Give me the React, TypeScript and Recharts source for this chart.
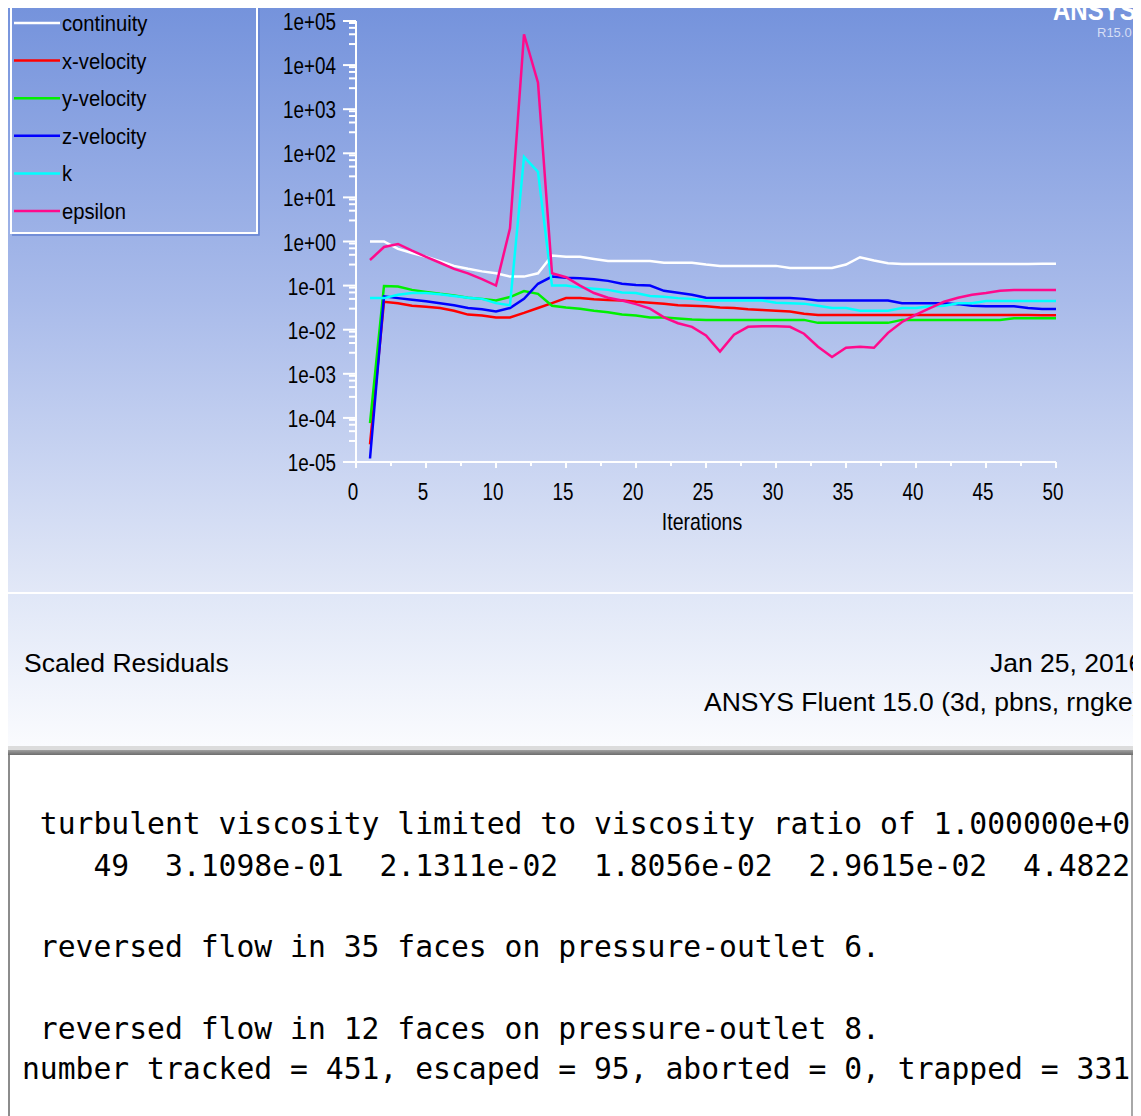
import React from "react";
import { LineChart, Line, XAxis, YAxis, Legend } from "recharts";

// Scaled residuals, iterations 1..50
const iterations = [
  1, 2, 3, 4, 5, 6, 7, 8, 9, 10, 11, 12, 13, 14, 15, 16, 17, 18, 19, 20, 21, 22, 23, 24, 25,
  26, 27, 28, 29, 30, 31, 32, 33, 34, 35, 36, 37, 38, 39, 40, 41, 42, 43, 44, 45, 46, 47, 48, 49, 50
];

const continuity = [
  1.0, 1.0, 0.68, 0.55, 0.45, 0.36, 0.28, 0.24, 0.21, 0.19, 0.16, 0.16, 0.19, 0.48, 0.45,
  0.45, 0.4, 0.36, 0.36, 0.36, 0.36, 0.33, 0.33, 0.33, 0.3, 0.28, 0.28, 0.28, 0.28, 0.28,
  0.25, 0.25, 0.25, 0.25, 0.3, 0.44, 0.37, 0.32, 0.31, 0.31, 0.31, 0.31, 0.31, 0.31, 0.31,
  0.31, 0.31, 0.31, 0.311, 0.311
];

const xVelocity = [
  2.5e-5, 0.043, 0.04, 0.035, 0.033, 0.031, 0.027, 0.022, 0.021, 0.019, 0.019, 0.024, 0.031,
  0.04, 0.052, 0.052, 0.049, 0.047, 0.046, 0.043, 0.041, 0.039, 0.036, 0.035, 0.034, 0.032,
  0.031, 0.029, 0.028, 0.027, 0.026, 0.023, 0.0215, 0.0215, 0.0215, 0.0215, 0.0215, 0.0215,
  0.0215, 0.0215, 0.0215, 0.0215, 0.0215, 0.0215, 0.0215, 0.0215, 0.0215, 0.0215, 0.0213, 0.0213
];

const yVelocity = [
  7.6e-5, 0.098, 0.095, 0.08, 0.072, 0.065, 0.06, 0.053, 0.05, 0.046, 0.055, 0.075, 0.065,
  0.035, 0.032, 0.03, 0.027, 0.025, 0.022, 0.021, 0.019, 0.019, 0.018, 0.017, 0.0167, 0.0167,
  0.0167, 0.0167, 0.0167, 0.0167, 0.0167, 0.0167, 0.0143, 0.0143, 0.0143, 0.0143, 0.0143,
  0.0143, 0.0167, 0.0167, 0.0167, 0.0167, 0.0167, 0.0167, 0.0167, 0.0167, 0.0181, 0.0181,
  0.0181, 0.0181
];

const zVelocity = [
  1.2e-5, 0.057, 0.052, 0.048, 0.044, 0.04, 0.036, 0.031, 0.029, 0.026, 0.031, 0.05, 0.11,
  0.16, 0.15, 0.147, 0.14, 0.128, 0.11, 0.103, 0.1, 0.076, 0.069, 0.062, 0.053, 0.052, 0.052,
  0.052, 0.052, 0.052, 0.052, 0.05, 0.046, 0.046, 0.046, 0.046, 0.046, 0.046, 0.04, 0.04,
  0.04, 0.04, 0.038, 0.035, 0.034, 0.034, 0.034, 0.031, 0.0296, 0.0296
];

const kResidual = [
  0.052, 0.052, 0.062, 0.068, 0.068, 0.064, 0.058, 0.053, 0.05, 0.04, 0.036, 83, 38, 0.1,
  0.1, 0.09, 0.085, 0.08, 0.07, 0.068, 0.058, 0.056, 0.052, 0.05, 0.046, 0.046, 0.046, 0.046,
  0.046, 0.041, 0.04, 0.039, 0.035, 0.031, 0.031, 0.027, 0.027, 0.027, 0.031, 0.031, 0.034,
  0.035, 0.04, 0.04, 0.045, 0.045, 0.045, 0.045, 0.0448, 0.0448
];

const epsilon = [
  0.38, 0.75, 0.88, 0.62, 0.45, 0.33, 0.24, 0.19, 0.14, 0.1, 2.0, 50000, 4000, 0.19, 0.155,
  0.1, 0.068, 0.053, 0.046, 0.038, 0.03, 0.019, 0.014, 0.0116, 0.0074, 0.0032, 0.0077, 0.0116,
  0.012, 0.012, 0.0116, 0.0081, 0.0041, 0.0024, 0.0039, 0.0041, 0.0039, 0.0085, 0.015, 0.022,
  0.031, 0.043, 0.053, 0.062, 0.068, 0.076, 0.079, 0.079, 0.079, 0.079
];

const seriesNames = ["continuity", "x-velocity", "y-velocity", "z-velocity", "k", "epsilon"];
const seriesColors: Record<string, string> = {
  continuity: "#ffffff",
  "x-velocity": "#ff0000",
  "y-velocity": "#00f000",
  "z-velocity": "#0000ff",
  k: "#00ffff",
  epsilon: "#ff0a8c"
};

const yTickLabels = [
  "1e-05", "1e-04", "1e-03", "1e-02", "1e-01", "1e+00", "1e+01", "1e+02", "1e+03", "1e+04", "1e+05"
];
const yMinorSteps = [3, 5, 7, 9];
const xTicks = [
  0, 2.5, 5, 7.5, 10, 12.5, 15, 17.5, 20, 22.5, 25, 27.5, 30, 32.5, 35, 37.5, 40, 42.5, 45, 47.5, 50
];

const consoleLines = [
  " turbulent viscosity limited to viscosity ratio of 1.000000e+05",
  "    49  3.1098e-01  2.1311e-02  1.8056e-02  2.9615e-02  4.4822e-02",
  " reversed flow in 35 faces on pressure-outlet 6.",
  " reversed flow in 12 faces on pressure-outlet 8.",
  "number tracked = 451, escaped = 95, aborted = 0, trapped = 331"
];

const seriesValues = [continuity, xVelocity, yVelocity, zVelocity, kResidual, epsilon];

const data = iterations.map((it, i) => {
  const row: Record<string, number> = { iter: it };
  seriesNames.forEach((name, s) => {
    row[name] = seriesValues[s][i];
  });
  return row;
});

const yMajor = yTickLabels.map((l) => Number(l));
const yTicks = [
  ...yMajor,
  ...yMajor.slice(0, -1).flatMap((m) => yMinorSteps.map((k) => m * k))
];

const FONT = "'Liberation Sans', Arial, Helvetica, sans-serif";

const YTick = (props: any) => {
  const { x, y, payload } = props;
  const idx = yMajor.indexOf(payload.value);
  const major = idx >= 0;
  return (
    <g>
      <line x1={x - (major ? 13 : 7)} x2={x} y1={y} y2={y} stroke="#fff" strokeWidth={2} />
      {major && (
        <text
          transform={`translate(${x - 20},${y + 9}) scale(0.82,1)`}
          textAnchor="end"
          fontSize={23}
          fontFamily={FONT}
          fill="#000"
        >
          {yTickLabels[idx]}
        </text>
      )}
    </g>
  );
};

const XTick = (props: any) => {
  const { x, y, payload } = props;
  const major = payload.value % 5 === 0;
  return (
    <g>
      <line x1={x} x2={x} y1={y} y2={y + (major ? 6 : 4)} stroke="#fff" strokeWidth={2} />
      {major && (
        <text
          transform={`translate(${x - 3},${y + 38}) scale(0.82,1)`}
          textAnchor="middle"
          fontSize={23}
          fontFamily={FONT}
          fill="#000"
        >
          {payload.value}
        </text>
      )}
    </g>
  );
};

// legend keeps the series order of the solver, not the sorted payload order
const LegendBox = () => (
  <svg width={251} height={241} style={{ display: "block", overflow: "visible" }}>
    <polyline points="249,0 249,239 2,239" fill="none" stroke="#6483d2" strokeWidth={1.5} />
    <rect x={1} y={1} width={246} height={236} fill="none" stroke="#fff" strokeWidth={2} />
    {seriesNames.map((name, i) => {
      const y = 27 + i * 37.6;
      return (
        <g key={name}>
          <line x1={4} x2={50} y1={y} y2={y} stroke={seriesColors[name]} strokeWidth={2.5} />
          <text
            transform={`translate(52,${y + 8}) scale(0.92,1)`}
            fontSize={22}
            fontFamily={FONT}
            fill="#000"
          >
            {name}
          </text>
        </g>
      );
    })}
  </svg>
);

const App: React.FC = () => {
  return (
    <div style={{ position: "relative", width: 1127, height: 1108, fontFamily: FONT }}>
      {/* plot panel */}
      <div
        style={{
          position: "absolute",
          left: 0,
          top: 0,
          width: 1127,
          height: 584,
          overflow: "hidden",
          background: "linear-gradient(to bottom, #7593dc 0%, #a9bbea 50%, #e2e8f7 100%)"
        }}
      >
        <LineChart
          width={1127}
          height={584}
          data={data}
          margin={{ top: 13, right: 79, bottom: 0, left: 0 }}
        >
          <XAxis
            dataKey="iter"
            type="number"
            domain={[0, 50]}
            ticks={xTicks}
            interval={0}
            height={130}
            tickSize={0}
            tickMargin={0}
            tickLine={false}
            tick={<XTick />}
            axisLine={{ stroke: "#fff", strokeWidth: 2 }}
            label={{
              content: (lp: any) => {
                const vb = lp.viewBox || {};
                return (
                  <text
                    transform={`translate(${vb.x + vb.width / 2 - 4},${vb.y + 68}) scale(0.85,1)`}
                    textAnchor="middle"
                    fontSize={23}
                    fontFamily={FONT}
                    fill="#000"
                  >
                    Iterations
                  </text>
                );
              }
            }}
          />
          <YAxis
            type="number"
            scale="log"
            domain={[1e-5, 1e5]}
            allowDataOverflow
            ticks={yTicks}
            interval={0}
            width={348}
            tickSize={0}
            tickMargin={0}
            tickLine={false}
            tick={<YTick />}
            axisLine={{ stroke: "#fff", strokeWidth: 2 }}
          />
          <Legend
            layout="vertical"
            align="center"
            verticalAlign="middle"
            content={<LegendBox />}
            wrapperStyle={{ left: 2, top: -12, width: 251, height: 241 }}
          />
          {seriesNames.map((name) => (
            <Line
              key={name}
              type="linear"
              dataKey={name}
              name={name}
              stroke={seriesColors[name]}
              strokeWidth={2.5}
              dot={false}
              isAnimationActive={false}
            />
          ))}
        </LineChart>
        <div
          style={{
            position: "absolute",
            left: 1045,
            top: -13,
            fontSize: 30,
            lineHeight: 1,
            fontWeight: "bold",
            color: "#fff",
            transform: "scaleX(0.8)",
            transformOrigin: "left top",
            whiteSpace: "nowrap"
          }}
        >
          ANSYS
        </div>
        <div
          style={{
            position: "absolute",
            left: 1089,
            top: 18,
            fontSize: 13,
            lineHeight: 1,
            color: "#d6def5",
            whiteSpace: "nowrap"
          }}
        >
          R15.0
        </div>
      </div>
      {/* separator */}
      <div style={{ position: "absolute", left: 0, top: 584, width: 1127, height: 2, background: "#fff" }} />
      {/* title band */}
      <div
        style={{
          position: "absolute",
          left: 0,
          top: 586,
          width: 1127,
          height: 152,
          overflow: "hidden",
          background: "linear-gradient(to bottom, #e0e7f7 0%, #fafbfe 100%)"
        }}
      >
        <div style={{ position: "absolute", left: 16, top: 56, fontSize: 26.5, lineHeight: 1, whiteSpace: "nowrap" }}>
          Scaled Residuals
        </div>
        <div style={{ position: "absolute", left: 982, top: 56, fontSize: 26.5, lineHeight: 1, whiteSpace: "nowrap" }}>
          Jan 25, 2016
        </div>
        <div style={{ position: "absolute", left: 696, top: 95, fontSize: 26.5, lineHeight: 1, whiteSpace: "nowrap" }}>
          ANSYS Fluent 15.0 (3d, pbns, rngke)
        </div>
      </div>
      <div style={{ position: "absolute", left: 0, top: 738, width: 1127, height: 4, background: "#dcdcdc" }} />
      <div
        style={{
          position: "absolute",
          left: 0,
          top: 742,
          width: 1127,
          height: 5,
          background: "linear-gradient(to bottom, #a0a0a0, #6c6c6c)"
        }}
      />
      {/* console */}
      <div
        style={{
          position: "absolute",
          left: 0,
          top: 747,
          width: 1121,
          height: 361,
          background: "#fff",
          borderLeft: "2px solid #8c8c8c",
          borderRight: "2px solid #a8a8a8",
          overflow: "hidden"
        }}
      >
        {consoleLines.map((line, i) => (
          <div
            key={i}
            style={{
              position: "absolute",
              left: 12,
              top: [54, 96, 177, 259, 299][i],
              fontFamily: "'DejaVu Sans Mono', monospace",
              fontSize: 29.7,
              lineHeight: "30px",
              whiteSpace: "pre",
              color: "#000"
            }}
          >
            {line}
          </div>
        ))}
      </div>
    </div>
  );
};

export default App;
